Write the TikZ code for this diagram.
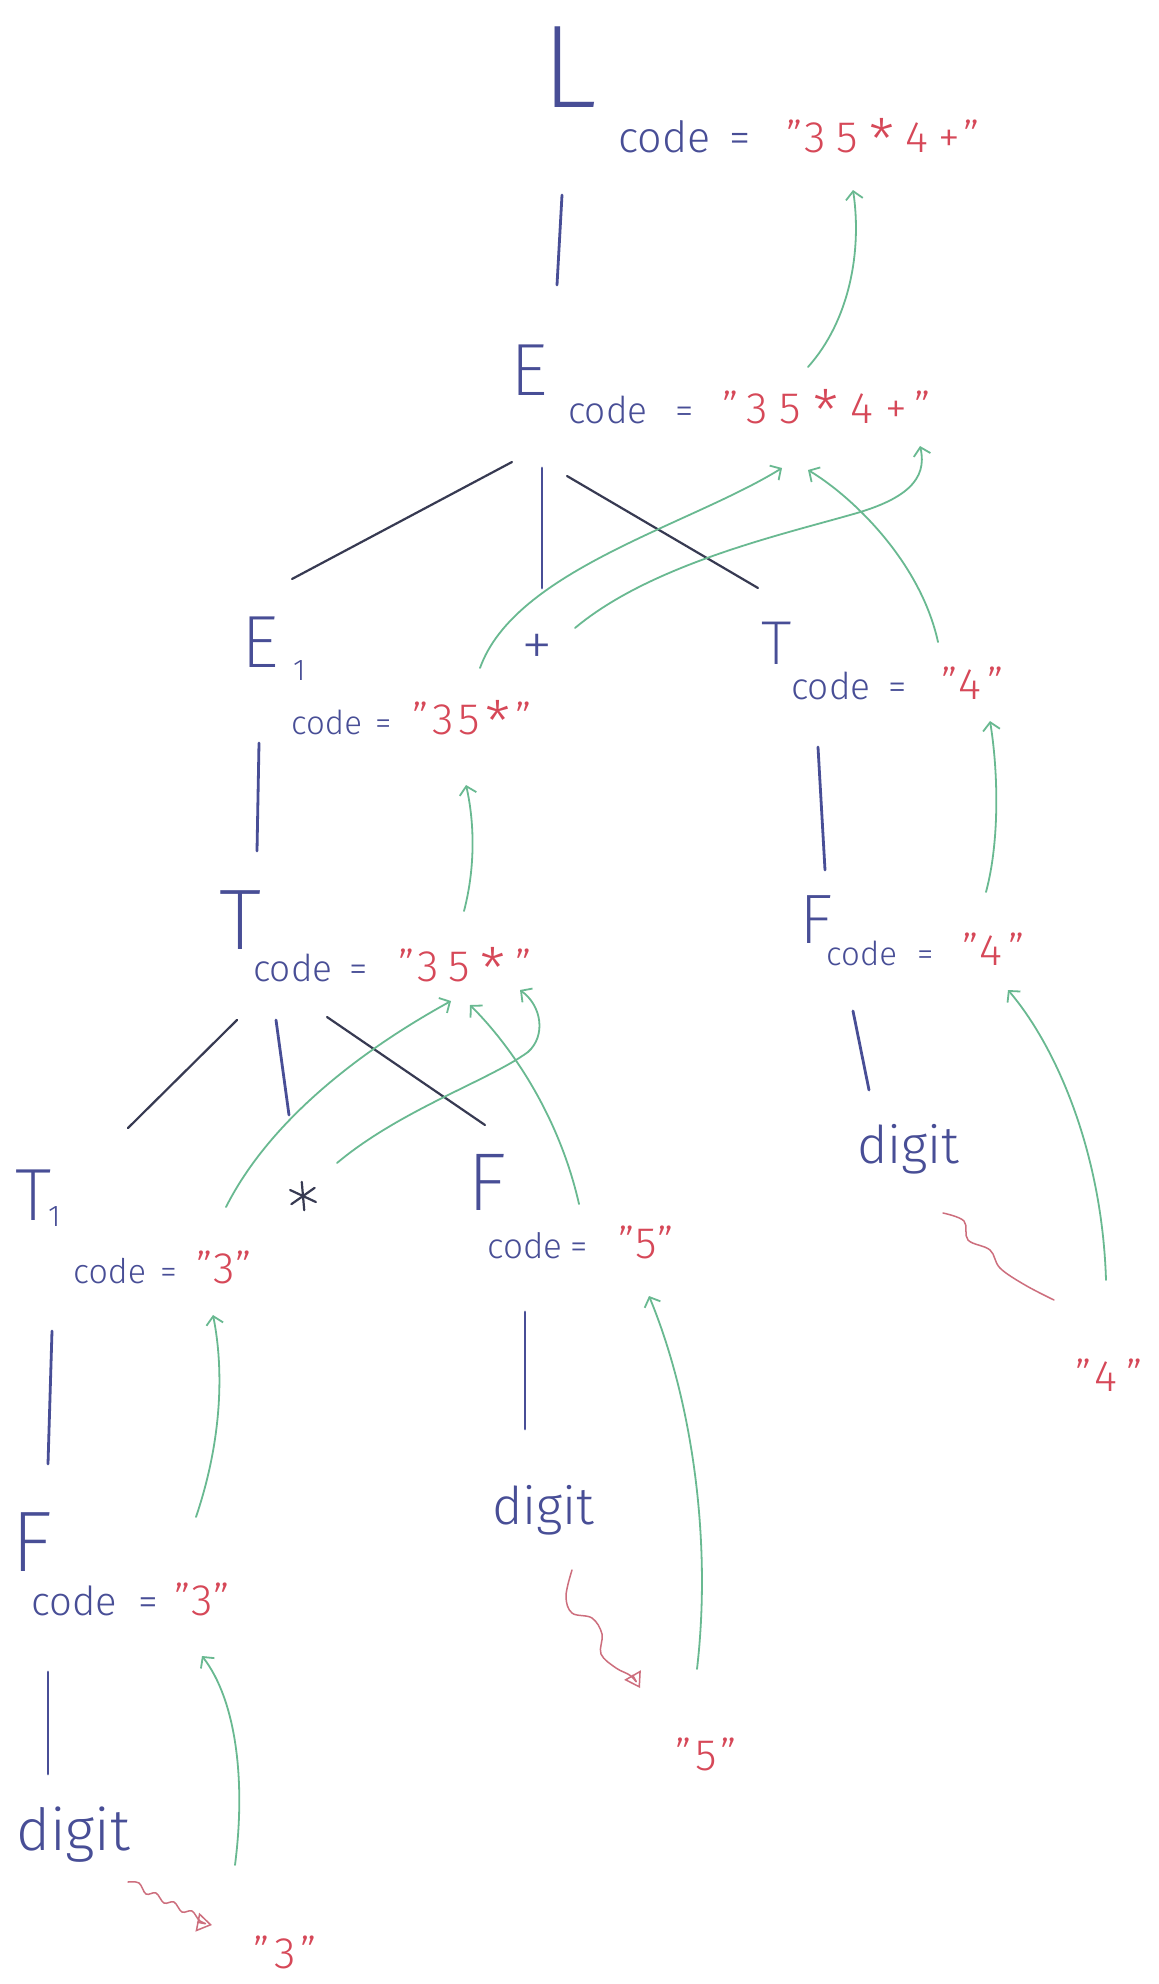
\documentclass[tikz,border=0pt]{standalone}
\usepackage{fontspec}
\setmainfont{Fira Sans}[UprightFont={* Light}]
\newfontfamily\thinf{Fira Sans}[UprightFont={* ExtraLight}]
\usepackage{graphicx}
\usetikzlibrary{arrows.meta}
\definecolor{pen}{RGB}{72,78,150}
\definecolor{ink}{RGB}{55,58,82}
\definecolor{rd}{RGB}{214,72,88}
\definecolor{gr}{RGB}{105,185,145}
\definecolor{sq}{RGB}{205,110,125}
\newcommand\hs[1]{\hspace{#1pt}}
\newcommand\astk{\raisebox{-0.2em}{\scalebox{1.3}{*}}}
\newcommand\fs[1]{\fontsize{#1}{#1}\selectfont}
\begin{document}
\begin{tikzpicture}[x=1pt,y=-1pt,
  sym/.style={text=pen,inner sep=0pt,anchor=base west},
  cd/.style={text=pen,inner sep=0pt,anchor=base west,font=\fs{37}},
  rs/.style={text=rd,inner sep=0pt,anchor=base west,font=\fs{44}},
  bluel/.style={draw=pen,line width=2.8pt,line cap=round},
  darkl/.style={draw=ink,line width=2.2pt,line cap=round},
  gar/.style={draw=gr,line width=1.8pt,line cap=round,-{Straight Barb[length=8pt,width=17pt,line width=1.8pt]}},
  sqg/.style={draw=sq,line width=1.5pt,line cap=round,line join=round},
  sqtip/.style={-{Triangle[open,length=15pt,width=19pt,line width=1.5pt]}}
]
\useasboundingbox (0,0) rectangle (1159,1984);
\fill[white] (0,0) rectangle (1159,1984);

% ---------- symbols ----------
\node[sym,font=\thinf\fs{118}] (L) at (541,107) {L};
\node[sym,font=\thinf\fs{74}] (E) at (510,395) {E};
\node[sym,font=\thinf\fs{74}] (E1) at (241,667) {E};
\node[sym,font=\fs{30}] (E1s) at (293,680) {1};
\node[text=pen,inner sep=0pt,font=\thinf\fs{64}] (plus) at (537,650) {+};
\node[sym,font=\thinf\fs{62}] (Tr) at (761,664) {T};
\node[sym,font=\thinf\fs{86}] (Tl) at (219,949) {T};
\node[sym,font=\thinf\fs{70}] (Fr) at (799,943) {F};
\node[sym,font=\thinf\fs{74}] (T1) at (15,1220) {T};
\node[sym,font=\fs{30}] (T1s) at (48,1226) {1};
\node[circle,inner sep=0pt,minimum size=28pt] (star) at (303,1196) {};
\foreach \a in {95,215,335} \draw[ink,line width=2.2pt,line cap=round] (star.\a) -- (star.{\a+180});
\node[sym,font=\thinf\fs{82}] (Fm) at (467,1210) {F};
\node[sym,font=\thinf\fs{86}] (Fl) at (11,1571) {F};
\node[sym,font=\fs{58}] (dL) at (16,1850) {digit};
\node[sym,font=\fs{52}] (dM) at (492,1524) {digit};
\node[sym,font=\fs{52}] (dR) at (857,1163) {digit};

% ---------- attribute labels ----------
\node[cd,font=\fs{43}] (Lc) at (618,152) {code};
\node[cd,font=\fs{43}] (Le) at (729,152) {=};
\node[rs] (Ls) at (786,152) {"\hs{2}3\hs{11}5\hs{11}\astk\hs{11}4\hs{10}+\hs{4}"};

\node[cd] (Ec) at (568,423) {code};
\node[cd] (Ee) at (675,423) {=};
\node[rs] (Es) at (722,423) {"\hs{8}3\hs{12}5\hs{12}\astk\hs{12}4\hs{12}+\hs{8}"};

\node[cd,font=\fs{33}] (E1c) at (291,734) {code};
\node[cd,font=\fs{33}] (E1e) at (375,734) {=};
\node[rs] (E1s2) at (412,734) {"\hs{4}3\hs{5}5\hs{5}\astk\hs{5}"};

\node[cd] (Tlc) at (253,981) {code};
\node[cd] (Tle) at (349,981) {=};
\node[rs] (Tls) at (398,981) {"\hs{3}3\hs{10}5\hs{10}\astk\hs{10}"};

\node[cd] (Trc) at (791,699) {code};
\node[cd] (Tre) at (888,699) {=};
\node[rs] (Trs) at (941,699) {"\hs{1}4\hs{6}"};

\node[cd,font=\fs{33}] (Frc) at (826,965) {code};
\node[cd,font=\fs{33}] (Fre) at (917,965) {=};
\node[rs] (Frs) at (962,965) {"\hs{1}4\hs{6}"};

\node[cd,font=\fs{34}] (T1c) at (73,1283) {code};
\node[cd,font=\fs{34}] (T1e) at (160,1283) {=};
\node[rs] (T1str) at (196,1283) {"\hs{1}3\hs{1}"};

\node[cd,font=\fs{35}] (Fmc) at (487,1258) {code};
\node[cd,font=\fs{35}] (Fme) at (570,1258) {=};
\node[rs] (Fms) at (618,1258) {"\hs{1}5\hs{1}"};

\node[cd,font=\fs{40}] (Flc) at (31,1615) {code};
\node[cd,font=\fs{40}] (Fle) at (138,1615) {=};
\node[rs] (Fls) at (174,1615) {"\hs{1}3\hs{1}"};

\node[rs] (v3) at (253,1968) {"\hs{5}3\hs{5}"};
\node[rs] (v5) at (675,1770) {"\hs{4}5\hs{4}"};
\node[rs] (v4) at (1075,1391) {"\hs{3}4\hs{9}"};

% ---------- tree edges ----------
\coordinate (a1) at (562,195); \coordinate (a2) at (557,285);
\coordinate (b1) at (512,462); \coordinate (b2) at (292,579);
\coordinate (c1) at (542,468); \coordinate (c2) at (542,588);
\coordinate (d1) at (567,476); \coordinate (d2) at (758,588);
\coordinate (e1) at (259,743); \coordinate (e2) at (257,851);
\coordinate (f1) at (237,1020); \coordinate (f2) at (128,1128);
\coordinate (g1) at (276,1020); \coordinate (g2) at (289,1115);
\coordinate (h1) at (327,1017); \coordinate (h2) at (485,1125);
\coordinate (i1) at (52,1331); \coordinate (i2) at (48,1464);
\coordinate (j1) at (48,1672); \coordinate (j2) at (48,1774);
\coordinate (k1) at (525,1312); \coordinate (k2) at (525,1429);
\coordinate (l1) at (818,747); \coordinate (l2) at (825,870);
\coordinate (m1) at (853,1011); \coordinate (m2) at (869,1090);
\draw[bluel] (a1) -- (a2);
\draw[darkl] (b1) -- (b2);
\draw[bluel] (c1) -- (c2);
\draw[darkl] (d1) -- (d2);
\draw[bluel] (e1) -- (e2);
\draw[darkl] (f1) -- (f2);
\draw[bluel] (g1) -- (g2);
\draw[darkl] (h1) -- (h2);
\draw[bluel] (i1) -- (i2);
\draw[bluel] (j1) -- (j2);
\draw[bluel] (k1) -- (k2);
\draw[bluel] (l1) -- (l2);
\draw[bluel] (m1) -- (m2);

% ---------- green synthesis arrows ----------
\coordinate (ga0) at (808,367); \coordinate (ga1) at (853,190);
\draw[gar] (ga0) .. controls (850,320) and (862,250) .. (ga1);
\coordinate (gb0) at (480,668); \coordinate (gb1) at (782,468);
\draw[gar] (gb0) .. controls (515,570) and (690,525) .. (gb1);
\coordinate (gc0) at (575,628); \coordinate (gc1) at (920,446);
\draw[gar] (gc0) .. controls (650,565) and (780,535) .. (850,515) .. controls (905,500) and (928,480) .. (gc1);
\coordinate (gd0) at (938,642); \coordinate (gd1) at (808,470);
\draw[gar] (gd0) .. controls (920,560) and (850,495) .. (gd1);
\coordinate (ge0) at (464,911); \coordinate (ge1) at (466,785);
\draw[gar] (ge0) .. controls (476,865) and (474,820) .. (ge1);
\coordinate (gf0) at (986,892); \coordinate (gf1) at (990,721);
\draw[gar] (gf0) .. controls (1000,840) and (998,770) .. (gf1);
\coordinate (gg0) at (1106,1280); \coordinate (gg1) at (1008,990);
\draw[gar] (gg0) .. controls (1102,1150) and (1055,1045) .. (gg1);
\coordinate (gh0) at (226,1207); \coordinate (gh1) at (451,1001);
\draw[gar] (gh0) .. controls (275,1110) and (380,1040) .. (gh1);
\coordinate (gi0) at (337,1163); \coordinate (gi1) at (520,990);
\draw[gar] (gi0) .. controls (400,1110) and (490,1080) .. (528,1052) .. controls (546,1036) and (542,1006) .. (gi1);
\coordinate (gj0) at (579,1204); \coordinate (gj1) at (470,1005);
\draw[gar] (gj0) .. controls (560,1120) and (515,1050) .. (gj1);
\coordinate (gk0) at (196,1517); \coordinate (gk1) at (213,1315);
\draw[gar] (gk0) .. controls (222,1440) and (224,1370) .. (gk1);
\coordinate (gl0) at (235,1865); \coordinate (gl1) at (202,1656);
\draw[gar] (gl0) .. controls (246,1780) and (236,1700) .. (gl1);
\coordinate (gm0) at (697,1669); \coordinate (gm1) at (649,1296);
\draw[gar] (gm0) .. controls (712,1540) and (692,1400) .. (gm1);

% ---------- lexical squiggles (digit ~> value) ----------
\draw[sqg,sqtip] plot[smooth,tension=0.6] coordinates {(128,1882) (139,1883) (146,1894) (156,1893) (164,1903) (174,1902) (182,1912) (192,1911) (200,1921) (212,1925)};
\draw[sqg,sqtip] plot[smooth,tension=0.6] coordinates {(572,1570) (566,1596) (572,1613) (592,1618) (602,1634) (601,1654) (616,1668) (631,1676) (640,1688)};
\draw[sqg] plot[smooth,tension=0.6] coordinates {(943,1213) (964,1221) (968,1240) (990,1250) (1000,1268) (1025,1285) (1054,1300)};
\end{tikzpicture}
\end{document}
